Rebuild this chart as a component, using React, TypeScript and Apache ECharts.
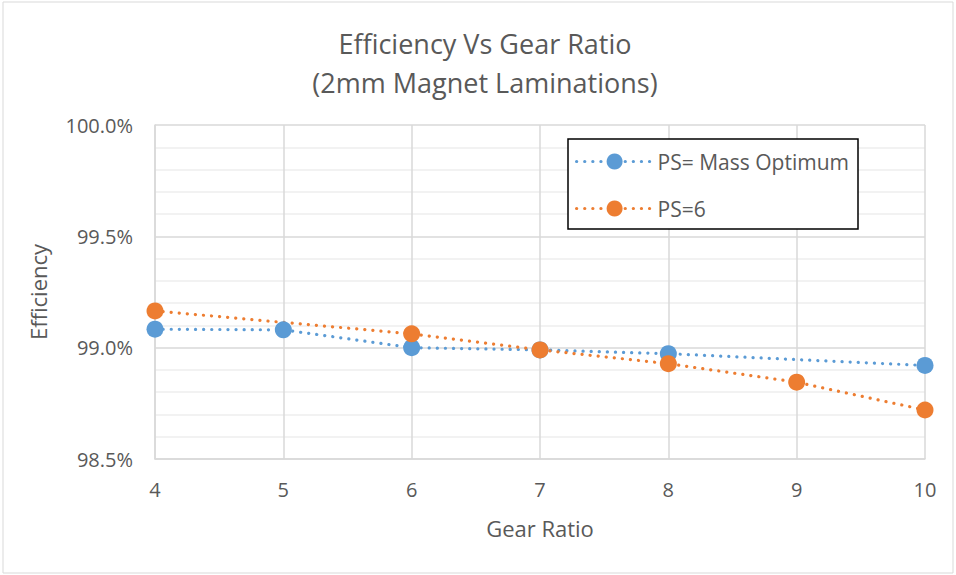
import React, { useEffect, useRef } from "react";
import * as echarts from "echarts";

const titleLines = ["Efficiency Vs Gear Ratio", "(2mm Magnet Laminations)"];
const seriesNames = ["PS= Mass Optimum", "PS=6"];
const massOptX = [4, 5, 6, 7, 8, 10];
const massOptY = [99.083, 99.08, 99.0, 98.99, 98.973, 98.92];
const ps6X = [4, 6, 7, 8, 9, 10];
const ps6Y = [99.165, 99.062, 98.99, 98.928, 98.845, 98.72];
const xAxisName = "Gear Ratio";
const yAxisName = "Efficiency";

const FONT = "Open Sans";
const TEXT = "#595959";

export default function App() {
  const ref = useRef<HTMLDivElement>(null);
  useEffect(() => {
    const chart = echarts.init(ref.current!, undefined, { renderer: "svg" });
    const dotted = { type: [0.1, 8] as any, cap: "round" as const, width: 3.2 };
    chart.setOption({
      animation: false,
      textStyle: { fontFamily: FONT, color: TEXT },
      graphic: [
        {
          type: "rect",
          shape: { x: 3, y: 2, width: 950, height: 571 },
          style: { fill: "none", stroke: "#d9d9d9", lineWidth: 1 },
          silent: true,
        },
        {
          type: "rect",
          shape: { x: 568, y: 139, width: 290, height: 90 },
          style: { fill: "#fff", stroke: "#000", lineWidth: 1.5 },
          silent: true,
          z: 5,
        },
        {
          type: "text",
          style: {
            text: titleLines[0],
            x: 485,
            y: 43,
            align: "center",
            verticalAlign: "middle",
            fontFamily: FONT,
            fontSize: 27,
            fill: TEXT,
          },
        },
        {
          type: "text",
          style: {
            text: titleLines[1],
            x: 485,
            y: 82,
            align: "center",
            verticalAlign: "middle",
            fontFamily: FONT,
            fontSize: 27,
            fill: TEXT,
          },
        },
      ],
      grid: { left: 155, right: 31, top: 125, bottom: 116, containLabel: false },
      legend: {
        orient: "vertical",
        left: 575,
        top: 151,
        padding: 0,
        itemGap: 26,
        itemWidth: 76,
        itemHeight: 20,
        z: 10,
        lineStyle: { width: 3.2, type: [0.1, 8], cap: "round" },
        textStyle: { fontFamily: FONT, fontSize: 21, color: TEXT },
        data: seriesNames,
      },
      xAxis: {
        type: "value",
        min: 4,
        max: 10,
        interval: 1,
        name: xAxisName,
        nameLocation: "middle",
        nameGap: 58,
        nameTextStyle: { fontFamily: FONT, fontSize: 22, color: TEXT },
        axisLine: { show: true, lineStyle: { color: "#d9d9d9", width: 1.5 } },
        axisTick: { show: false },
        axisLabel: { fontFamily: FONT, fontSize: 20, color: TEXT, margin: 20 },
        splitLine: { show: true, lineStyle: { color: "#d9d9d9", width: 1.5 } },
      },
      yAxis: {
        type: "value",
        min: 98.5,
        max: 100,
        interval: 0.5,
        name: yAxisName,
        nameLocation: "middle",
        nameGap: 106,
        nameRotate: 90,
        nameTextStyle: { fontFamily: FONT, fontSize: 22, color: TEXT },
        axisLine: { show: true, lineStyle: { color: "#d9d9d9", width: 1.5 } },
        axisTick: { show: false },
        axisLabel: {
          fontFamily: FONT,
          fontSize: 20,
          color: TEXT,
          margin: 22,
          formatter: (v: number) => v.toFixed(1) + "%",
        },
        splitLine: { show: true, lineStyle: { color: "#d9d9d9", width: 1.5 } },
        minorTick: { show: false, splitNumber: 5 },
        minorSplitLine: { show: true, lineStyle: { color: "#eeeeee", width: 1.5 } },
      },
      series: [
        {
          name: seriesNames[0],
          type: "line",
          data: massOptX.map((x, i) => [x, massOptY[i]]),
          symbol: "circle",
          symbolSize: 17,
          itemStyle: { color: "#5B9BD5" },
          lineStyle: { ...dotted, color: "#5B9BD5" },
        },
        {
          name: seriesNames[1],
          type: "line",
          data: ps6X.map((x, i) => [x, ps6Y[i]]),
          symbol: "circle",
          symbolSize: 17,
          itemStyle: { color: "#ED7D31" },
          lineStyle: { ...dotted, color: "#ED7D31" },
        },
      ],
    });
    return () => chart.dispose();
  }, []);
  return (
    <div
      ref={ref}
      style={{ position: "fixed", left: 0, top: 0, width: 956, height: 575, background: "#fff" }}
    />
  );
}
